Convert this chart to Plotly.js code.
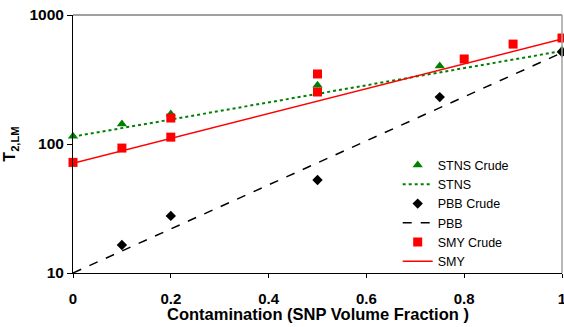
<!DOCTYPE html>
<html>
<head>
<script src="https://cdn.plot.ly/plotly-3.0.1.min.js"></script>
<style>html,body{margin:0;padding:0;background:#fff;}#chart{width:564px;height:327px;}</style>
</head>
<body>
<div id="chart"></div>
<script>
// Crude data points
const stnsX = [0, 0.1, 0.2, 0.5, 0.75, 1];
const stnsY = [115, 143, 171, 286, 403, 535];
const pbbX = [0.1, 0.2, 0.5, 0.75, 1];
const pbbY = [16.5, 27.7, 52.6, 231, 517];
const smyX = [0, 0.1, 0.2, 0.2, 0.5, 0.5, 0.8, 0.9, 1];
const smyY = [72, 93, 113, 159, 349, 253, 456, 595, 663];
// Fit lines (endpoints)
const fitX = [0, 1];
const stnsFit = [114, 526];
const pbbFit = [10, 510];
const smyFit = [71, 652];
// Axis ticks
const xTicks = [0, 0.2, 0.4, 0.6, 0.8, 1];
const xTickText = ["0", "0.2", "0.4", "0.6", "0.8", "1"];
const yTicks = [10, 100, 1000];
const yTickText = ["10", "100", "1000"];

const FONT = "Liberation Sans, Arial, sans-serif";

const traces = [
  {x: stnsX, y: stnsY, name: "STNS Crude", mode: "markers", type: "scatter",
   marker: {symbol: "triangle-up", color: "#008000", size: 9}, cliponaxis: false},
  {x: fitX, y: stnsFit, name: "STNS", mode: "lines", type: "scatter",
   line: {color: "#008000", width: 2, dash: "dot"}},
  {x: pbbX, y: pbbY, name: "PBB Crude", mode: "markers", type: "scatter",
   marker: {symbol: "diamond", color: "#000000", size: 8}, cliponaxis: false},
  {x: fitX, y: pbbFit, name: "PBB", mode: "lines", type: "scatter",
   line: {color: "#000000", width: 1.5, dash: "dash"}},
  {x: smyX, y: smyY, name: "SMY Crude", mode: "markers", type: "scatter",
   marker: {symbol: "square", color: "#ff0000", size: 9}, cliponaxis: false},
  {x: fitX, y: smyFit, name: "SMY", mode: "lines", type: "scatter",
   line: {color: "#ff0000", width: 1.5}}
];

const layout = {
  width: 564, height: 327,
  margin: {l: 73, r: 2, t: 15, b: 54},
  paper_bgcolor: "#fff", plot_bgcolor: "#fff",
  font: {family: FONT, color: "#000"},
  showlegend: true,
  legend: {x: 0.664, y: 0.475, xanchor: "left", yanchor: "top",
           font: {size: 12.5, color: "#000"}, bgcolor: "rgba(0,0,0,0)",
           tracegroupgap: 0, itemwidth: 30},
  xaxis: {range: [0, 1], tickvals: xTicks, ticktext: xTickText,
          showgrid: false, zeroline: false, showline: true, linecolor: "#000", linewidth: 1,
          ticks: "outside", ticklen: 4, tickcolor: "#000",
          ticklabelstandoff: 8, ticklabeloverflow: "allow",
          tickfont: {size: 15, family: FONT, weight: "bold"}},
  yaxis: {type: "log", range: [1, 3], tickvals: yTicks, ticktext: yTickText,
          showgrid: false, zeroline: false, showline: true, linecolor: "#000", linewidth: 1,
          ticks: "outside", ticklen: 5, tickcolor: "#000",
          tickfont: {size: 15.5, family: FONT, weight: "bold"},
          title: {text: "<b>T<sub>2,LM</sub></b>", standoff: 9, font: {size: 16}}},
  annotations: [
    {text: "<b>Contamination (SNP Volume Fraction )</b>", xref: "paper", yref: "paper",
     x: 0.5, y: 0, xanchor: "center", yanchor: "middle", yshift: -41, showarrow: false,
     font: {size: 16.5, family: FONT, color: "#000"}}
  ],
  shapes: [
    {type: "line", xref: "paper", yref: "paper", x0: 0, x1: 1, y0: 1, y1: 1,
     line: {color: "#a0a0a0", width: 2}},
    {type: "line", xref: "paper", yref: "paper", x0: 1, x1: 1, y0: 0, y1: 1,
     line: {color: "#a0a0a0", width: 1.5}}
  ]
};

Plotly.newPlot("chart", traces, layout, {staticPlot: true, displayModeBar: false});
</script>
</body>
</html>
